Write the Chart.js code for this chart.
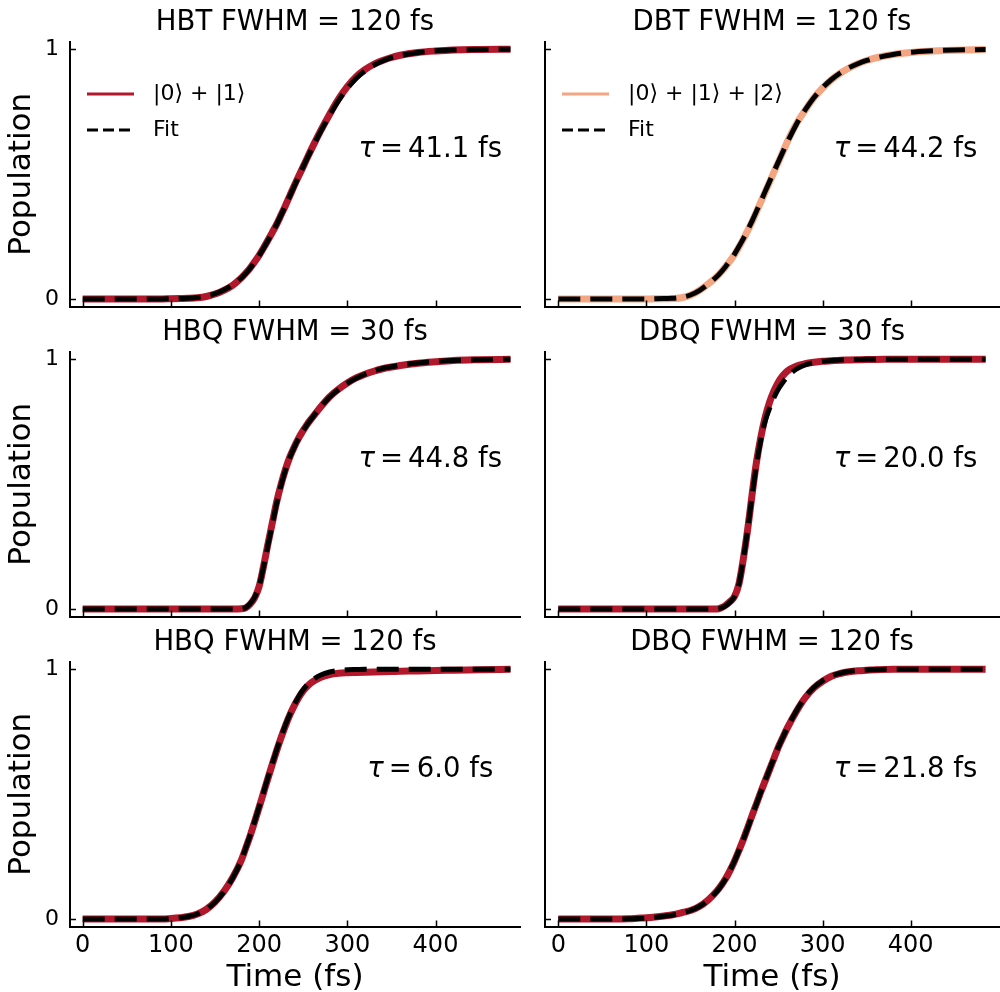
<!DOCTYPE html>
<html lang="en">
<head>
  <meta charset="UTF-8" />
  <title>Population rise fits</title>
  <script src="https://cdn.jsdelivr.net/npm/chart.js"></script>
  <style>
    body {
      margin: 0;
      background: #fff;
    }
    #wrap {
      position: relative;
      width: 1000px;
      height: 992px;
    }
    #wrap canvas {
      position: absolute;
    }
  </style>
</head>
<body>

  <div id="wrap"></div>

  <script>
    // time grid (fs) shared by every panel
    const time = [0, 20, 40, 60, 80, 90, 100, 110, 120, 130, 140, 150, 160, 170, 180, 185, 190, 195, 200, 205,
      210, 215, 220, 225, 230, 235, 240, 245, 250, 255, 260, 270, 280, 290, 300, 310, 320, 330, 340, 350,
      360, 380, 400, 420, 450, 485];

    const hbt120 = [0, 0, 0, 0, 0, 0, 0.001, 0.002, 0.003, 0.005, 0.01, 0.02, 0.035, 0.055, 0.085, 0.104, 0.125, 0.149, 0.175, 0.204,
      0.235, 0.267, 0.30, 0.337, 0.375, 0.415, 0.455, 0.493, 0.53, 0.568, 0.605, 0.675, 0.74, 0.80, 0.85, 0.89, 0.918, 0.94, 0.955, 0.967,
      0.976, 0.987, 0.993, 0.997, 0.999, 1.0];
    const hbt120Fit = [0, 0, 0, 0, 0, 0, 0.001, 0.002, 0.003, 0.006, 0.011, 0.021, 0.036, 0.056, 0.085, 0.103, 0.124, 0.148, 0.174, 0.203,
      0.234, 0.266, 0.30, 0.337, 0.375, 0.414, 0.453, 0.492, 0.53, 0.567, 0.603, 0.672, 0.736, 0.794, 0.843, 0.883, 0.913, 0.936, 0.953, 0.966,
      0.975, 0.987, 0.994, 0.997, 0.999, 1.0];

    const dbt120 = [0, 0, 0, 0, 0, 0, 0, 0.001, 0.001, 0.002, 0.005, 0.015, 0.034, 0.06, 0.09, 0.109, 0.13, 0.153, 0.178, 0.208,
      0.24, 0.274, 0.31, 0.35, 0.39, 0.43, 0.47, 0.51, 0.55, 0.59, 0.63, 0.70, 0.755, 0.805, 0.845, 0.878, 0.904, 0.925, 0.942, 0.955,
      0.965, 0.979, 0.987, 0.992, 0.996, 0.999];
    const dbt120Fit = [0, 0, 0, 0, 0, 0, 0, 0.001, 0.002, 0.003, 0.007, 0.016, 0.034, 0.059, 0.09, 0.109, 0.13, 0.154, 0.18, 0.21,
      0.242, 0.277, 0.313, 0.352, 0.392, 0.432, 0.472, 0.512, 0.551, 0.59, 0.628, 0.698, 0.756, 0.806, 0.846, 0.879, 0.905, 0.926, 0.942, 0.955,
      0.965, 0.979, 0.988, 0.993, 0.997, 0.999];

    const hbq30 = [0, 0, 0, 0, 0, 0, 0, 0, 0, 0, 0, 0, 0, 0, 0.001, 0.005, 0.02, 0.045, 0.09, 0.17,
      0.26, 0.345, 0.43, 0.50, 0.56, 0.61, 0.65, 0.685, 0.715, 0.742, 0.765, 0.81, 0.85, 0.88, 0.905, 0.925, 0.94, 0.952, 0.962, 0.969,
      0.975, 0.984, 0.99, 0.995, 0.998, 1.0];
    const hbq30Fit = [0, 0, 0, 0, 0, 0, 0, 0, 0, 0, 0, 0, 0, 0, 0.001, 0.006, 0.022, 0.048, 0.092, 0.168,
      0.255, 0.34, 0.425, 0.497, 0.558, 0.608, 0.649, 0.684, 0.714, 0.741, 0.765, 0.81, 0.849, 0.879, 0.904, 0.924, 0.94, 0.953, 0.963, 0.97,
      0.976, 0.985, 0.991, 0.995, 0.998, 1.0];

    const dbq30 = [0, 0, 0, 0, 0, 0, 0, 0, 0, 0, 0, 0, 0, 0, 0, 0.005, 0.015, 0.03, 0.05, 0.10,
      0.20, 0.32, 0.46, 0.59, 0.69, 0.77, 0.83, 0.875, 0.91, 0.935, 0.953, 0.972, 0.982, 0.988, 0.992, 0.994, 0.996, 0.997, 0.998, 0.999,
      0.999, 1.0, 1.0, 1.0, 1.0, 1.0];
    const dbq30Fit = [0, 0, 0, 0, 0, 0, 0, 0, 0, 0, 0, 0, 0, 0, 0, 0.004, 0.013, 0.028, 0.05, 0.10,
      0.20, 0.32, 0.455, 0.58, 0.68, 0.755, 0.805, 0.848, 0.882, 0.908, 0.93, 0.96, 0.977, 0.987, 0.992, 0.995, 0.997, 0.998, 0.999, 1.0,
      1.0, 1.0, 1.0, 1.0, 1.0, 1.0];

    const hbq120 = [0, 0, 0, 0, 0, 0, 0.002, 0.005, 0.01, 0.02, 0.038, 0.068, 0.11, 0.165, 0.237, 0.285, 0.335, 0.39, 0.447, 0.505,
      0.563, 0.62, 0.675, 0.727, 0.775, 0.818, 0.855, 0.887, 0.913, 0.933, 0.948, 0.968, 0.979, 0.984, 0.986, 0.987, 0.988, 0.989, 0.99, 0.991,
      0.992, 0.993, 0.995, 0.996, 0.998, 1.0];
    const hbq120Fit = [0, 0, 0, 0, 0, 0, 0.002, 0.005, 0.01, 0.02, 0.038, 0.067, 0.109, 0.164, 0.237, 0.286, 0.337, 0.391, 0.448, 0.507,
      0.566, 0.623, 0.678, 0.73, 0.778, 0.821, 0.859, 0.891, 0.918, 0.94, 0.956, 0.977, 0.989, 0.995, 0.998, 0.999, 1.0, 1.0, 1.0, 1.0,
      1.0, 1.0, 1.0, 1.0, 1.0, 1.0];

    const dbq120 = [0, 0, 0, 0, 0.001, 0.003, 0.005, 0.008, 0.012, 0.017, 0.025, 0.034, 0.05, 0.076, 0.112, 0.135, 0.162, 0.195, 0.232, 0.274,
      0.318, 0.366, 0.415, 0.462, 0.51, 0.555, 0.60, 0.645, 0.69, 0.728, 0.765, 0.83, 0.885, 0.925, 0.952, 0.972, 0.983, 0.99, 0.994, 0.996,
      0.998, 1.0, 1.0, 1.0, 1.0, 1.0];
    const dbq120Fit = [0, 0, 0, 0, 0.001, 0.002, 0.004, 0.007, 0.011, 0.016, 0.024, 0.034, 0.05, 0.075, 0.111, 0.134, 0.161, 0.195, 0.232, 0.274,
      0.318, 0.365, 0.414, 0.462, 0.51, 0.556, 0.601, 0.646, 0.69, 0.729, 0.766, 0.832, 0.887, 0.927, 0.954, 0.973, 0.984, 0.991, 0.995, 0.997,
      0.998, 1.0, 1.0, 1.0, 1.0, 1.0];

    const panelTitles = ['HBT FWHM = 120 fs', 'DBT FWHM = 120 fs', 'HBQ FWHM = 30 fs',
      'DBQ FWHM = 30 fs', 'HBQ FWHM = 120 fs', 'DBQ FWHM = 120 fs'];
    const tauValues = ['41.1', '44.2', '44.8', '20.0', '6.0', '21.8'];
    const stateLabels = ['|0⟩ + |1⟩', '|0⟩ + |1⟩ + |2⟩'];
    const xTicks = [0, 100, 200, 300, 400];
    const yTicks = [0, 1];

    const RED = '#b2182b';
    const SALMON = '#f4a582';
    const FONT = '"DejaVu Sans", sans-serif';

    const simSeries = [hbt120, dbt120, hbq30, dbq30, hbq120, dbq120];
    const fitSeries = [hbt120Fit, dbt120Fit, hbq30Fit, dbq30Fit, hbq120Fit, dbq120Fit];
    const lineColors = [RED, SALMON, RED, RED, RED, RED];

    function zip(xs, ys) {
      return xs.map((x, i) => ({ x: x, y: ys[i] }));
    }

    // no automatic padding: the chart area must sit exactly where we put it
    function noPad(s) {
      s.paddingTop = 0;
      s.paddingBottom = 0;
      s.paddingLeft = 0;
      s.paddingRight = 0;
    }

    // extra drawing: inward ticks, panel title, tau note, legend
    function decor(p) {
      return {
        id: 'decor',
        afterDraw(chart) {
          const { ctx, chartArea: a, scales } = chart;
          const sx = scales.x, sy = scales.y;
          ctx.save();
          ctx.strokeStyle = '#000';
          ctx.lineWidth = 1.5;
          ctx.beginPath();
          sx.ticks.forEach(t => {
            const px = Math.round(sx.getPixelForValue(t.value)) + 0.5;
            ctx.moveTo(px, a.bottom);
            ctx.lineTo(px, a.bottom - 6);
          });
          sy.ticks.forEach(t => {
            const py = Math.round(sy.getPixelForValue(t.value)) + 0.5;
            ctx.moveTo(a.left, py);
            ctx.lineTo(a.left + 6, py);
          });
          ctx.stroke();

          ctx.fillStyle = '#000';
          ctx.textAlign = 'center';
          ctx.textBaseline = 'alphabetic';
          ctx.font = '27.5px ' + FONT;
          ctx.fillText(p.title, (a.left + a.right) / 2, a.top - 12);

          // tau = ... fs, centred on t = 394 fs
          const parts = [
            { s: 'τ', f: 'italic 27.5px ' + FONT },
            { s: '=', f: '27.5px ' + FONT },
            { s: p.tau + ' fs', f: '27.5px ' + FONT }
          ];
          const gap = 5;
          let total = 0;
          parts.forEach(q => { ctx.font = q.f; q.w = ctx.measureText(q.s).width; total += q.w; });
          total += gap * 2;
          let tx = sx.getPixelForValue(394) - total / 2;
          const ty = sy.getPixelForValue(0.568);
          ctx.textAlign = 'left';
          parts.forEach(q => { ctx.font = q.f; ctx.fillText(q.s, tx, ty); tx += q.w + gap; });

          if (p.legend) {
            const x0 = a.left + 17, x1 = a.left + 64, xt = a.left + 83;
            const y0 = a.top + 52, y1 = a.top + 88;
            ctx.lineWidth = 3;
            ctx.strokeStyle = p.color;
            ctx.beginPath();
            ctx.moveTo(x0, y0);
            ctx.lineTo(x1, y0);
            ctx.stroke();
            ctx.strokeStyle = '#000';
            ctx.setLineDash([11, 5]);
            ctx.beginPath();
            ctx.moveTo(x0, y1);
            ctx.lineTo(x1, y1);
            ctx.stroke();
            ctx.setLineDash([]);
            ctx.font = '22px ' + FONT;
            ctx.textBaseline = 'middle';
            ctx.fillText(p.legend, xt, y0);
            ctx.fillText('Fit', xt, y1);
          }
          ctx.restore();
        }
      };
    }

    function makePanel(i) {
      const row = Math.floor(i / 2), col = i % 2;
      const bottom = row === 2;
      const h = bottom ? 372 : 310;
      const p = {
        title: panelTitles[i],
        tau: tauValues[i],
        color: lineColors[i],
        legend: row === 0 ? stateLabels[col] : null
      };
      const left = col === 0 ? 0 : 522;
      const w = col === 0 ? 522 : 478;
      const yAxisW = col === 0 ? 70 : 23;
      const padRight = col === 0 ? 2 : 1;
      const xMin = col === 0 ? -14.4 : -15.1;
      const xMax = col === 0 ? 495.8 : 500.2;

      const canvas = document.createElement('canvas');
      canvas.width = w;
      canvas.height = h;
      canvas.style.left = left + 'px';
      canvas.style.top = (row * 310) + 'px';
      document.getElementById('wrap').appendChild(canvas);

      new Chart(canvas.getContext('2d'), {
        type: 'line',
        data: {
          datasets: [
            {
              label: 'Fit',
              data: zip(time, fitSeries[i]),
              borderColor: '#000',
              borderWidth: 5,
              borderDash: [22, 10],
              order: 0
            },
            {
              label: p.legend || stateLabels[0],
              data: zip(time, simSeries[i]),
              borderColor: p.color,
              borderWidth: 7,
              order: 1
            }
          ]
        },
        options: {
          responsive: false,
          animation: false,
          events: [],
          layout: { autoPadding: false, padding: { left: 0, right: padRight, top: 42, bottom: 0 } },
          elements: {
            point: { radius: 0 },
            line: { cubicInterpolationMode: 'monotone', borderCapStyle: 'butt', borderJoinStyle: 'round' }
          },
          plugins: { legend: { display: false }, tooltip: { enabled: false } },
          scales: {
            x: {
              type: 'linear',
              min: xMin,
              max: xMax,
              grid: { display: false, drawTicks: false },
              border: { display: true, color: '#000', width: 2 },
              afterBuildTicks: s => { s.ticks = xTicks.map(v => ({ value: v })); },
              afterFit: s => { s.height = h - 306.5; noPad(s); },
              ticks: { display: bottom, padding: 5, color: '#000', font: { family: FONT, size: 24 } },
              title: {
                display: bottom,
                text: 'Time (fs)',
                color: '#000',
                font: { family: FONT, size: 31, lineHeight: 0.9 },
                padding: 0
              }
            },
            y: {
              type: 'linear',
              min: -0.03,
              max: 1.029,
              grid: { display: false, drawTicks: false },
              border: { display: true, color: '#000', width: 2 },
              afterBuildTicks: s => { s.ticks = yTicks.map(v => ({ value: v })); },
              afterFit: s => { s.width = yAxisW; noPad(s); },
              ticks: { display: col === 0, padding: 11, color: '#000', font: { family: FONT, size: 22 } },
              title: {
                display: col === 0,
                text: 'Population',
                color: '#000',
                font: { family: FONT, size: 31, lineHeight: 1 },
                padding: { top: 6, bottom: 0 }
              }
            }
          }
        },
        plugins: [decor(p)]
      });
    }

    for (let i = 0; i < 6; i++) makePanel(i);
  </script>

</body>
</html>
